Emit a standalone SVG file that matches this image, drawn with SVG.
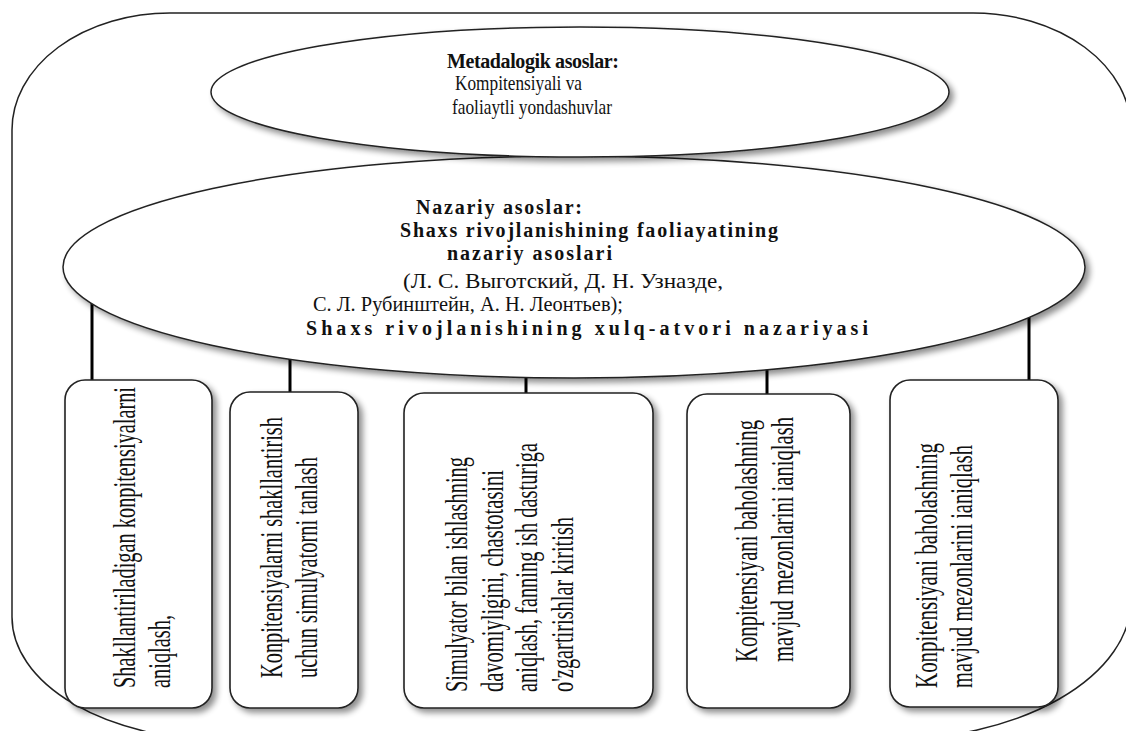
<svg xmlns="http://www.w3.org/2000/svg" width="1126" height="731" viewBox="0 0 1126 731">
<defs>
<filter id="sh" x="-10%" y="-10%" width="125%" height="125%">
<feGaussianBlur in="SourceAlpha" stdDeviation="3"/>
<feOffset dx="4" dy="4" result="b"/>
<feComponentTransfer><feFuncA type="linear" slope="0.45"/></feComponentTransfer>
<feMerge><feMergeNode/><feMergeNode in="SourceGraphic"/></feMerge>
</filter>
<style>
.outer{fill:none;stroke:#222;stroke-width:1.5}
.ell{fill:#fff;stroke:#222;stroke-width:1.5}
.box{fill:#fff;stroke:#222;stroke-width:1.6}
.con{stroke:#000;stroke-width:3;fill:none}
.b{font-family:"Liberation Serif","Times New Roman",serif;font-weight:bold;font-size:20px;fill:#111}
.r{font-family:"Liberation Serif","Times New Roman",serif;font-size:21px;fill:#111}
.v{font-family:"Liberation Serif","Times New Roman",serif;font-size:32px;fill:#111}
</style>
</defs>
<rect width="1126" height="731" fill="#fff"/>
<g id="frame">
<path class="outer" d="M12,130 A158,117 0 0 1 170,13 L973,13 A158,117 0 0 1 1131,130 L1131,600 A245,140 0 0 1 886,740 L223,740 A211,123 0 0 1 12,617 Z"/>
</g>
<g id="connectors">
<line class="con" x1="92" y1="300" x2="92" y2="380"/>
<line class="con" x1="290" y1="355" x2="290" y2="392"/>
<line class="con" x1="526" y1="372" x2="526" y2="393"/>
<line class="con" x1="767" y1="365" x2="767" y2="394"/>
<line class="con" x1="1029" y1="313" x2="1029" y2="380"/>
</g>
<g id="nazariy">
<ellipse class="ell" filter="url(#sh)" cx="574" cy="267" rx="511" ry="111"/>
<text class="b" x="416" y="214" textLength="166" lengthAdjust="spacing">Nazariy asoslar:</text>
<text class="b" x="400" y="237" textLength="378" lengthAdjust="spacing">Shaxs rivojlanishining faoliayatining</text>
<text class="b" x="447" y="260" textLength="165" lengthAdjust="spacing">nazariy asoslari</text>
<text class="r" x="403" y="288" textLength="320" lengthAdjust="spacingAndGlyphs">(Л. С. Выготский, Д. Н. Узназде,</text>
<text class="r" x="313" y="311" textLength="310" lengthAdjust="spacingAndGlyphs">С. Л. Рубинштейн, А. Н. Леонтьев);</text>
<text class="b" x="306" y="335" font-size="24" textLength="562" lengthAdjust="spacing">Shaxs rivojlanishining xulq-atvori nazariyasi</text>
</g>
<g id="metadalogik">
<ellipse class="ell" filter="url(#sh)" cx="580" cy="92" rx="369" ry="65"/>
<text class="b" x="447" y="68" font-size="19" textLength="172" lengthAdjust="spacing">Metadalogik asoslar:</text>
<text class="r" x="455" y="90" textLength="127" lengthAdjust="spacingAndGlyphs">Kompitensiyali va</text>
<text class="r" x="452" y="114" textLength="160" lengthAdjust="spacingAndGlyphs">faoliaytli yondashuvlar</text>
</g>
<g id="box1">
<rect class="box" filter="url(#sh)" x="65" y="380" width="147" height="328" rx="20"/>
<text class="v" transform="translate(135,688) rotate(-90)" textLength="301" lengthAdjust="spacingAndGlyphs">Shakllantiriladigan konpitensiyalarni</text>
<text class="v" transform="translate(170,688) rotate(-90)" textLength="73" lengthAdjust="spacingAndGlyphs">aniqlash,</text>
</g>
<g id="box2">
<rect class="box" filter="url(#sh)" x="230" y="392" width="128" height="316" rx="20"/>
<text class="v" transform="translate(282,678) rotate(-90)" textLength="261" lengthAdjust="spacingAndGlyphs">Konpitensiyalarni shakllantirish</text>
<text class="v" transform="translate(317,678) rotate(-90)" textLength="221" lengthAdjust="spacingAndGlyphs">uchun simulyatorni tanlash</text>
</g>
<g id="box3">
<rect class="box" filter="url(#sh)" x="404" y="393" width="249" height="315" rx="20"/>
<text class="v" transform="translate(467,692) rotate(-90)" textLength="235" lengthAdjust="spacingAndGlyphs">Simulyator bilan ishlashning</text>
<text class="v" transform="translate(503,692) rotate(-90)" textLength="222" lengthAdjust="spacingAndGlyphs">davomiyligini, chastotasini</text>
<text class="v" transform="translate(537,692) rotate(-90)" textLength="249" lengthAdjust="spacingAndGlyphs">aniqlash, fanning ish dasturiga</text>
<text class="v" transform="translate(573,692) rotate(-90)" textLength="175" lengthAdjust="spacingAndGlyphs">o'zgartirishlar kiritish</text>
</g>
<g id="box4">
<rect class="box" filter="url(#sh)" x="687" y="394" width="163" height="314" rx="20"/>
<text class="v" transform="translate(757,662) rotate(-90)" textLength="242" lengthAdjust="spacingAndGlyphs">Konpitensiyani baholashning</text>
<text class="v" transform="translate(793,662) rotate(-90)" textLength="245" lengthAdjust="spacingAndGlyphs">mavjud mezonlarini ianiqlash</text>
</g>
<g id="box5">
<rect class="box" filter="url(#sh)" x="890" y="380" width="168" height="327" rx="20"/>
<text class="v" transform="translate(937,688) rotate(-90)" textLength="245" lengthAdjust="spacingAndGlyphs">Konpitensiyani baholashning</text>
<text class="v" transform="translate(972,688) rotate(-90)" textLength="243" lengthAdjust="spacingAndGlyphs">mavjud mezonlarini ianiqlash</text>
</g>
</svg>
